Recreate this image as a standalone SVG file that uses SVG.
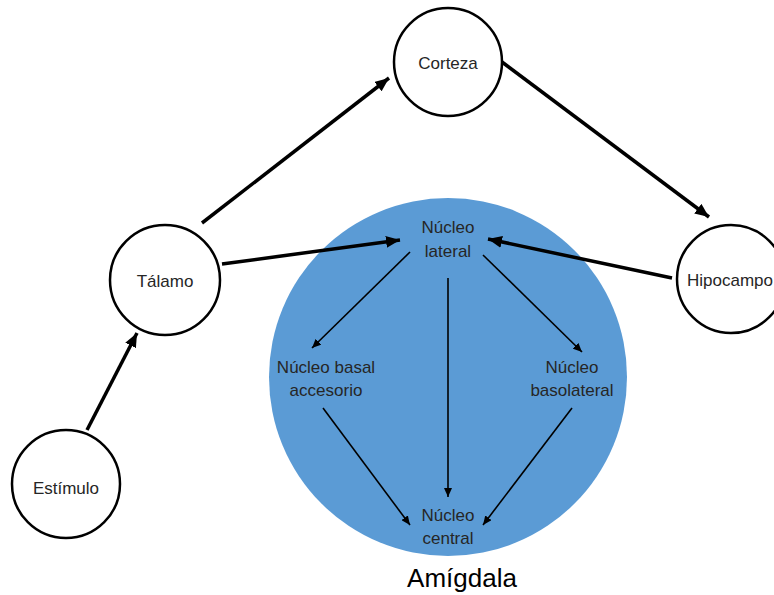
<svg xmlns="http://www.w3.org/2000/svg" width="774" height="595" viewBox="0 0 774 595">
<defs>
<style>
.node{fill:#ffffff;stroke:#000000;stroke-width:2.5}
.amy{fill:#5b9bd5;stroke:none}
.lbl{font-family:"Liberation Sans",Arial,sans-serif;font-size:17px;fill:#262626;text-anchor:middle}
.big{font-family:"Liberation Sans",Arial,sans-serif;font-size:26px;fill:#000000;text-anchor:middle}
.thick{stroke:#000000;stroke-width:3.5;fill:none;marker-end:url(#ah)}
.thin{stroke:#000000;stroke-width:1.6;fill:none;marker-end:url(#as)}
</style>
<marker id="ah" markerUnits="userSpaceOnUse" viewBox="0 0 14 12" refX="14" refY="6" markerWidth="14" markerHeight="12" orient="auto">
<path d="M0,0 L14,6 L0,12 z" fill="#000000"/>
</marker>
<marker id="as" markerUnits="userSpaceOnUse" viewBox="0 0 9 8" refX="9" refY="4" markerWidth="9" markerHeight="8" orient="auto">
<path d="M0,0 L9,4 L0,8 z" fill="#000000"/>
</marker>
</defs>
<rect width="774" height="595" fill="#ffffff"/>
<g id="amigdala">
<circle class="amy" cx="448" cy="377" r="179"/>
<text class="big" x="462" y="587">Amígdala</text>
</g>
<g id="corteza">
<circle class="node" cx="448" cy="62" r="54"/>
<text class="lbl" x="448" y="69">Corteza</text>
</g>
<g id="talamo">
<circle class="node" cx="165" cy="280" r="55"/>
<text class="lbl" x="165" y="287">Tálamo</text>
</g>
<g id="hipocampo">
<circle class="node" cx="731" cy="279" r="54"/>
<text class="lbl" x="730" y="286">Hipocampo</text>
</g>
<g id="estimulo">
<circle class="node" cx="66" cy="484" r="54"/>
<text class="lbl" x="66" y="494">Estímulo</text>
</g>
<g id="nucleo-lateral">
<text class="lbl" x="448" y="233">Núcleo</text>
<text class="lbl" x="448" y="257">lateral</text>
</g>
<g id="nucleo-basal-accesorio">
<text class="lbl" x="326" y="373">Núcleo basal</text>
<text class="lbl" x="326" y="396">accesorio</text>
</g>
<g id="nucleo-basolateral">
<text class="lbl" x="572" y="373">Núcleo</text>
<text class="lbl" x="572" y="396">basolateral</text>
</g>
<g id="nucleo-central">
<text class="lbl" x="448" y="521">Núcleo</text>
<text class="lbl" x="448" y="544">central</text>
</g>
<g id="connectors">
<line class="thick" x1="87" y1="430" x2="137" y2="333"/>
<line class="thick" x1="202" y1="223" x2="389" y2="78"/>
<line class="thick" x1="502" y1="62" x2="709" y2="217"/>
<line class="thick" x1="222" y1="264" x2="400" y2="240"/>
<line class="thick" x1="672" y1="278" x2="488" y2="239"/>
<line class="thin" x1="410" y1="252" x2="312" y2="348"/>
<line class="thin" x1="448" y1="278" x2="448" y2="497"/>
<line class="thin" x1="483" y1="255" x2="582" y2="352"/>
<line class="thin" x1="323" y1="408" x2="410" y2="525"/>
<line class="thin" x1="572" y1="408" x2="483" y2="525"/>
</g>
</svg>
